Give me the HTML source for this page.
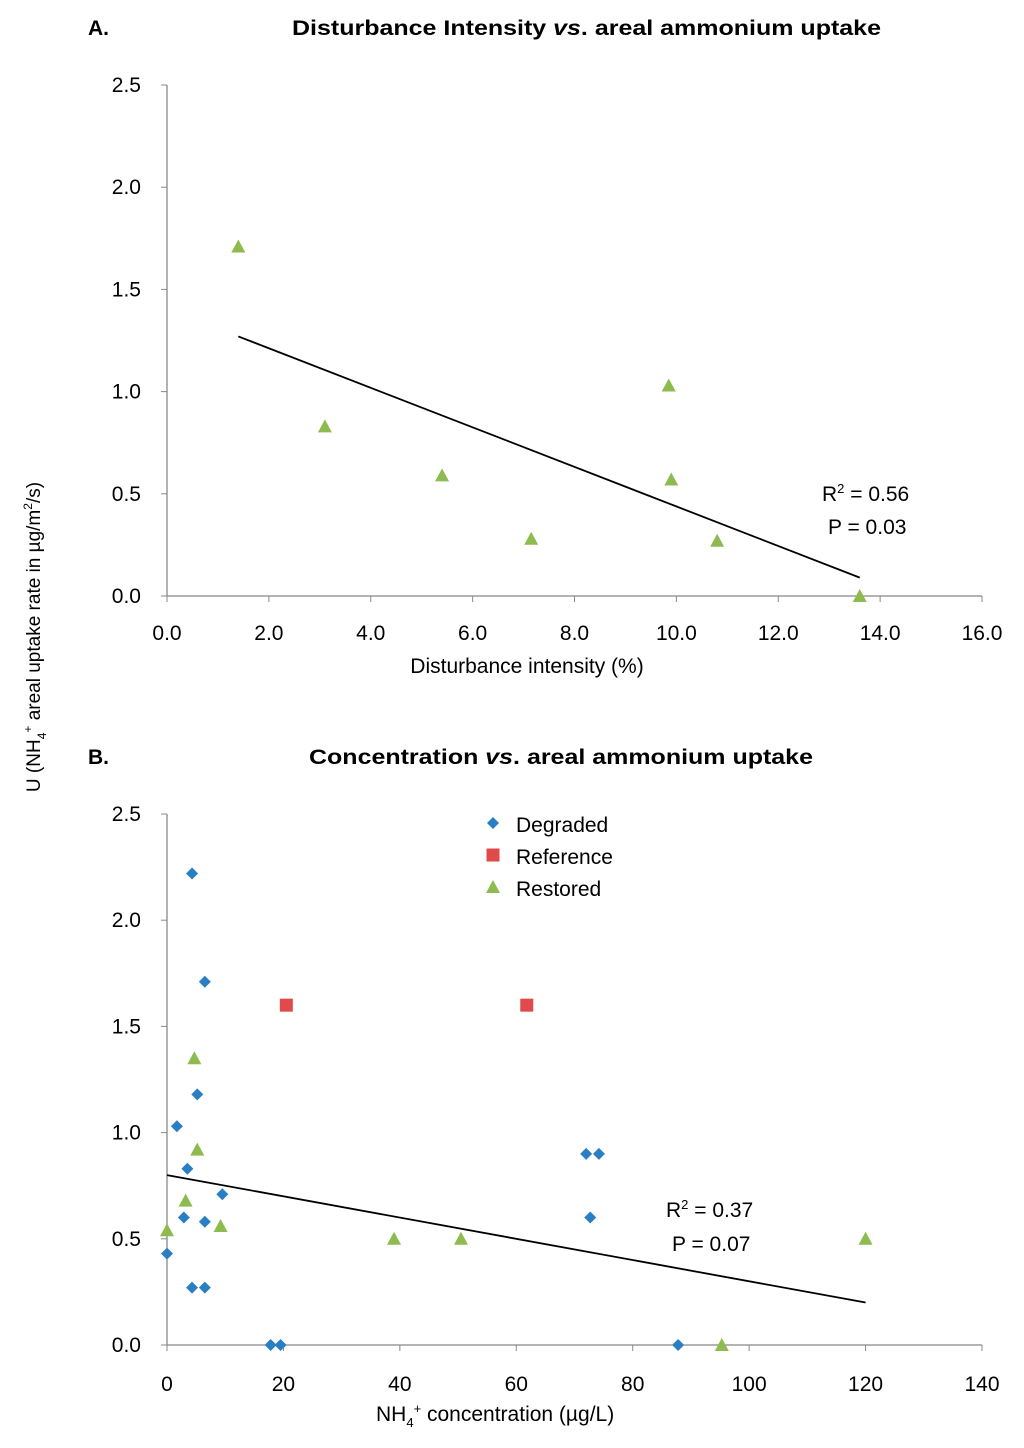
<!DOCTYPE html>
<html><head><meta charset="utf-8"><style>
body{margin:0;background:#fff;}
svg{display:block;font-family:"Liberation Sans",sans-serif;}
</style></head><body>
<svg id="c" width="1024" height="1448"></svg>
<script>
const aX=[1.4,3.1,5.4,7.15,9.85,9.9,10.8,13.6];
const aY=[1.71,0.83,0.59,0.28,1.03,0.57,0.27,0.0];
const aTrend=[[1.4,1.27],[13.6,0.09]];
const aXTicks=["0.0","2.0","4.0","6.0","8.0","10.0","12.0","14.0","16.0"];
const yTicks=["0.0","0.5","1.0","1.5","2.0","2.5"];
const degX=[0,1.7,2.9,3.5,4.3,4.3,5.2,6.5,6.5,6.5,9.5,17.8,19.5,72,74.2,72.7,87.8];
const degY=[0.43,1.03,0.60,0.83,2.22,0.27,1.18,1.71,0.58,0.27,0.71,0.0,0.0,0.90,0.90,0.60,0.0];
const refX=[20.5,61.8];
const refY=[1.60,1.60];
const resX=[0,3.2,4.7,5.2,9.2,39,50.5,95.3,120];
const resY=[0.54,0.68,1.35,0.92,0.56,0.50,0.50,0.0,0.50];
const bTrend=[[0,0.80],[120,0.20]];
const bXTicks=["0","20","40","60","80","100","120","140"];
const NS="http://www.w3.org/2000/svg";
const svg=document.getElementById('c');
function mk(t,a,p){const e=document.createElementNS(NS,t);for(const k in a)e.setAttribute(k,a[k]);(p||svg).appendChild(e);return e;}
function txt(s,x,y,o,name){const e=mk('text',Object.assign({x:x,y:y,'font-size':21,fill:'#000'},o||{}));e.innerHTML=s;

return e;}
function panel(x0,x1,xmax,y0,y1,xt,xoff,name){
 const sx=v=>x0+(x1-x0)*v/xmax, sy=v=>y0-(y0-y1)*v/2.5;
 const g=mk('g',{});
 
 
 mk('line',{x1:x0,y1:y1,x2:x0,y2:y0,stroke:'#888','stroke-width':1.3},g);
 mk('line',{x1:x0,y1:y0,x2:x1,y2:y0,stroke:'#888','stroke-width':1.3},g);
 yTicks.forEach((t,i)=>{const y=sy(i*0.5);mk('line',{x1:x0-6,y1:y,x2:x0,y2:y,stroke:'#888'},g);
  const e=txt(t,x0-26,y+7,{'text-anchor':'end'},'y-tick-label');g.appendChild(e);});
 xt.forEach((t,i)=>{const x=x0+(x1-x0)*i/(xt.length-1);mk('line',{x1:x,y1:y0,x2:x,y2:y0+6,stroke:'#888'},g);
  const e=txt(t,x,y0+xoff,{'text-anchor':'middle'},'x-tick-label');g.appendChild(e);});
 return {sx,sy,g};
}
function tri(x,y,col,name,g){const e=mk('polygon',{points:`${x},${y-7} ${x+7},${y+6} ${x-7},${y+6}`,fill:col},g);
 }
function dia(x,y,col,name,g){const e=mk('polygon',{points:`${x},${y-6} ${x+6},${y} ${x},${y+6} ${x-6},${y}`,fill:col},g);
 }
function sq(x,y,col,name,g){const e=mk('rect',{x:x-6.5,y:y-6.5,width:13,height:13,fill:col},g);
 }
const G='#8dbb4f',B='#2a7fc4',R='#e04a4a';
// Panel A
const A=panel(167,982,16,596,85,aXTicks,44,'panel-a');
const la=mk('line',{x1:A.sx(aTrend[0][0]),y1:A.sy(aTrend[0][1]),x2:A.sx(aTrend[1][0]),y2:A.sy(aTrend[1][1]),stroke:'#000','stroke-width':1.8},A.g);

aX.forEach((v,i)=>tri(A.sx(v),A.sy(aY[i]),G,'restored-point',A.g));
txt('A.',88,35,{'font-weight':'bold'},'panel-a-label');
txt('Disturbance Intensity <tspan font-style="italic">vs</tspan>. areal ammonium uptake',292,35,{'font-weight':'bold',textLength:589,lengthAdjust:'spacingAndGlyphs'},'panel-a-title');
txt('R<tspan font-size="13" dy="-8">2</tspan><tspan dy="8"> = 0.56</tspan>',822,501,{},'r2-a');
txt('P = 0.03',828,534,{},'p-a');
txt('Disturbance intensity (%)',527,673,{'text-anchor':'middle'},'x-axis-title-a');
// Panel B
const Bp=panel(167,982,140,1345,814,bXTicks,46,'panel-b');
const lb=mk('line',{x1:Bp.sx(bTrend[0][0]),y1:Bp.sy(bTrend[0][1]),x2:Bp.sx(bTrend[1][0]),y2:Bp.sy(bTrend[1][1]),stroke:'#000','stroke-width':1.8},Bp.g);

degX.forEach((v,i)=>dia(Bp.sx(v),Bp.sy(degY[i]),B,'degraded-point',Bp.g));
refX.forEach((v,i)=>sq(Bp.sx(v),Bp.sy(refY[i]),R,'reference-point',Bp.g));
resX.forEach((v,i)=>tri(Bp.sx(v),Bp.sy(resY[i]),G,'restored-point',Bp.g));
txt('B.',88,764,{'font-weight':'bold'},'panel-b-label');
txt('Concentration <tspan font-style="italic">vs</tspan>. areal ammonium uptake',309,764,{'font-weight':'bold',textLength:504,lengthAdjust:'spacingAndGlyphs'},'panel-b-title');
txt('R<tspan font-size="13" dy="-8">2</tspan><tspan dy="8"> = 0.37</tspan>',666,1217,{},'r2-b');
txt('P = 0.07',672,1251,{},'p-b');
txt('NH<tspan font-size="13" dy="6">4</tspan><tspan font-size="13" dy="-14">+</tspan><tspan dy="8"> concentration (µg/L)</tspan>',376,1421,{},'x-axis-title-b');
// legend
dia(493,823,B,'legend-degraded-marker');txt('Degraded',516,832,{},'legend-degraded');
sq(493,855,R,'legend-reference-marker');txt('Reference',516,864,{},'legend-reference');
tri(493,887,G,'legend-restored-marker');txt('Restored',516,896,{},'legend-restored');
// shared y title
txt('U (NH<tspan font-size="12" dy="6">4</tspan><tspan font-size="12" dy="-14">+</tspan><tspan dy="8"> areal uptake rate in µg/m</tspan><tspan font-size="12" dy="-8">2</tspan><tspan dy="8">/s)</tspan>',0,0,{'text-anchor':'middle','font-size':19,transform:'translate(40,637) rotate(-90)'},'y-axis-title');
</script>
</body></html>
